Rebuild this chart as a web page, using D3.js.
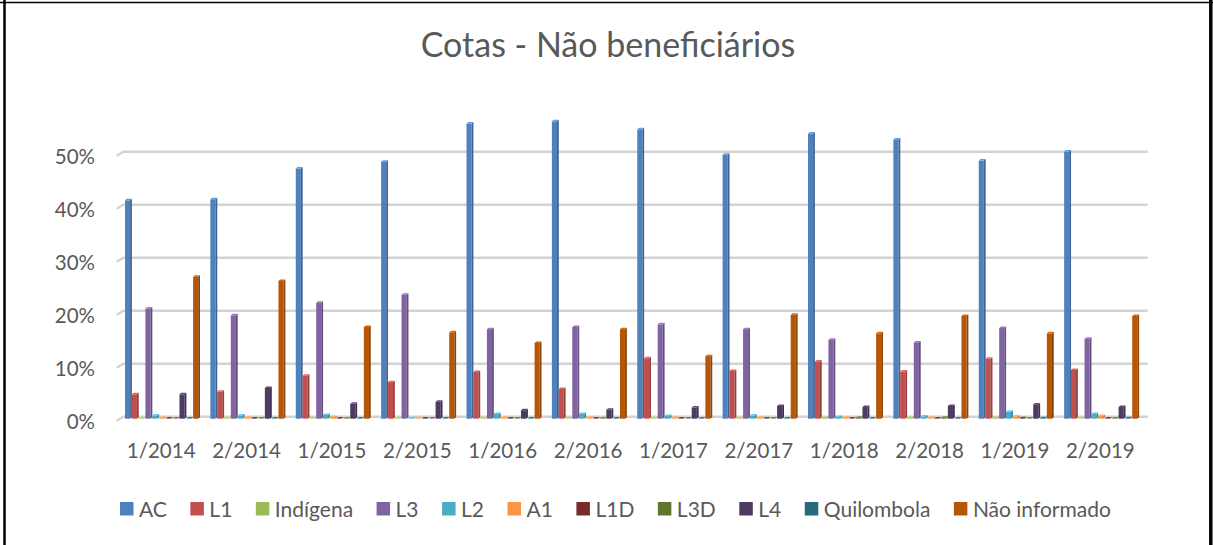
<!DOCTYPE html>
<html>
<head>
<meta charset="utf-8">
<script src="https://cdn.jsdelivr.net/npm/d3@7"></script>
<style>
  body { margin: 0; background: #fff; }
  text { font-family: Lato, "Open Sans", sans-serif; fill: #595959; }
</style>
</head>
<body>
<div id="chart"></div>
<script>
// periods
var categories = ["1/2014","2/2014","1/2015","2/2015","1/2016","2/2016","1/2017","2/2017","1/2018","2/2018","1/2019","2/2019"];
var seriesNames = ["AC","L1","Indígena","L3","L2","A1","L1D","L3D","L4","Quilombola","Não informado"];
var seriesColors = ["#4F81BD","#C0504D","#9BBB59","#8064A2","#4BACC6","#F79646","#772C2A","#5F7530","#4D3B62","#276A7C","#B65708"];

// values in %
var ac         = [41.2, 41.4, 47.2, 48.5, 55.7, 56.1, 54.6, 49.8, 53.8, 52.7, 48.7, 50.4];
var l1         = [4.6, 5.1, 8.1, 6.9, 8.8, 5.6, 11.4, 9.0, 10.8, 8.9, 11.3, 9.2];
var indigena   = [0.1, 0.1, 0.1, 0.1, 0.1, 0.1, 0.1, 0.1, 0.2, 0.2, 0.2, 0.1];
var l3         = [20.8, 19.5, 21.9, 23.4, 16.9, 17.3, 17.8, 16.9, 14.9, 14.4, 17.1, 15.1];
var l2         = [0.6, 0.6, 0.7, 0.1, 0.9, 0.9, 0.5, 0.6, 0.3, 0.4, 1.3, 0.9];
var a1         = [0.2, 0.2, 0.3, 0.1, 0.2, 0.2, 0.2, 0.2, 0.2, 0.2, 0.4, 0.5];
var l1d        = [0.05, 0.05, 0.05, 0.05, 0.05, 0.05, 0.05, 0.05, 0.05, 0.05, 0.1, 0.05];
var l3d        = [0.05, 0.05, 0.05, 0.05, 0.05, 0.05, 0.05, 0.05, 0.2, 0.2, 0.05, 0.05];
var l4         = [4.6, 5.8, 2.8, 3.2, 1.6, 1.7, 2.1, 2.4, 2.2, 2.4, 2.7, 2.2];
var quilombola = [0.05, 0.05, 0.05, 0.05, 0.05, 0.05, 0.05, 0.05, 0.05, 0.05, 0.1, 0.1];
var naoInf     = [26.8, 26.0, 17.3, 16.3, 14.3, 16.9, 11.8, 19.6, 16.1, 19.4, 16.1, 19.4];

var yTicks = [0, 10, 20, 30, 40, 50];

var seriesValues = [ac, l1, indigena, l3, l2, a1, l1d, l3d, l4, quilombola, naoInf];

function drawChart(){
    var width = 1213, height = 545;
    var depthX = 6.7, depthY = 4;   // 3d wall offset
    var barDx = 1.8, barDy = 1.5;   // bar side depth

    var svg = d3.select("#chart").append("svg")
        .attr("width", width)
        .attr("height", height);

    // frame
    svg.append("line").attr("x1", 4.5).attr("x2", 4.5).attr("y1", 0).attr("y2", height)
        .style("stroke", "#000").style("stroke-width", 2.5);
    svg.append("line").attr("x1", 0).attr("x2", width).attr("y1", 2.5).attr("y2", 2.5)
        .style("stroke", "#000").style("stroke-width", 1.5);
    svg.append("line").attr("x1", 1210.8).attr("x2", 1210.8).attr("y1", 0).attr("y2", height)
        .style("stroke", "#000").style("stroke-width", 3.5);

    svg.append("text")
        .attr("x", 608)
        .attr("y", 57)
        .attr("text-anchor", "middle")
        .style("font-size", "34px")
        .text("Cotas - Não beneficiários");

    var y = d3.scaleLinear().domain([0, 50]).range([416.7, 151.7]);

    var x0 = d3.scaleBand().domain(categories).range([118.5, 1143]);
    var x1 = d3.scaleBand().domain(seriesNames).range([6.5, 79.7]).paddingInner(0.25).paddingOuter(0);

    // gridlines (back wall with slanted floor edge)
    var backLeft = 123.4, backRight = 1147.7;
    var grid = svg.append("g");
    grid.selectAll("path")
        .data(yTicks)
        .enter().append("path")
        .attr("d", function(d){
            return "M" + (backLeft - depthX) + "," + (y(d) + depthY) +
                   "L" + backLeft + "," + y(d) + "L" + backRight + "," + y(d);
        })
        .style("fill", "none")
        .style("stroke", "#d3d3d3")
        .style("stroke-width", 2.5);

    grid.selectAll("text")
        .data(yTicks)
        .enter().append("text")
        .attr("x", 95)
        .attr("y", function(d){ return y(d) + 12.5; })
        .attr("text-anchor", "end")
        .style("font-size", "20.5px")
        .text(function(d){ return d + "%"; });

    // bars
    var baseY = y(0) + 2;
    var groups = svg.append("g").selectAll("g")
        .data(categories)
        .enter().append("g")
        .attr("transform", function(d){ return "translate(" + x0(d) + ",0)"; });

    var bars = groups.selectAll("g")
        .data(function(d, i){
            return seriesNames.map(function(s, j){ return {s: s, v: seriesValues[j][i], c: seriesColors[j]}; });
        })
        .enter().append("g");

    var bw = x1.bandwidth();
    bars.append("rect")
        .attr("x", function(d){ return x1(d.s); })
        .attr("y", function(d){ return y(d.v) + 2; })
        .attr("width", bw)
        .attr("height", function(d){ return Math.max(0, baseY - y(d.v) - 2); })
        .attr("fill", function(d){ return d.c; });

    bars.append("path")
        .attr("d", function(d){
            var xr = x1(d.s) + bw, t = y(d.v) + 2;
            return "M" + xr + "," + t + "L" + (xr + barDx) + "," + (t - barDy) +
                   "L" + (xr + barDx) + "," + (baseY - barDy) + "L" + xr + "," + baseY + "Z";
        })
        .attr("fill", function(d){ return d3.color(d.c).darker(0.7); });

    bars.append("path")
        .attr("d", function(d){
            var xl = x1(d.s), t = y(d.v) + 2;
            return "M" + xl + "," + t + "L" + (xl + barDx) + "," + (t - barDy) +
                   "L" + (xl + bw + barDx) + "," + (t - barDy) + "L" + (xl + bw) + "," + t + "Z";
        })
        .attr("fill", function(d){ return d3.color(d.c).brighter(0.5); });

    // category labels
    svg.append("g").selectAll("text")
        .data(categories)
        .enter().append("text")
        .attr("x", function(d){ return x0(d) + x0.bandwidth() / 2; })
        .attr("y", 458)
        .attr("text-anchor", "middle")
        .style("font-size", "20.5px")
        .text(function(d){ return d; });

    // legend
    var legend = svg.append("g");
    var lx = 120;
    seriesNames.forEach(function(s, i){
        legend.append("rect")
            .attr("x", lx).attr("y", 502)
            .attr("width", 13.5).attr("height", 13.5)
            .attr("fill", seriesColors[i]);
        var t = legend.append("text")
            .attr("x", lx + 19)
            .attr("y", 516.5)
            .style("font-size", "21px")
            .text(s);
        lx += 19 + t.node().getComputedTextLength() + 23.5;
    });
}
drawChart();
</script>
</body>
</html>
